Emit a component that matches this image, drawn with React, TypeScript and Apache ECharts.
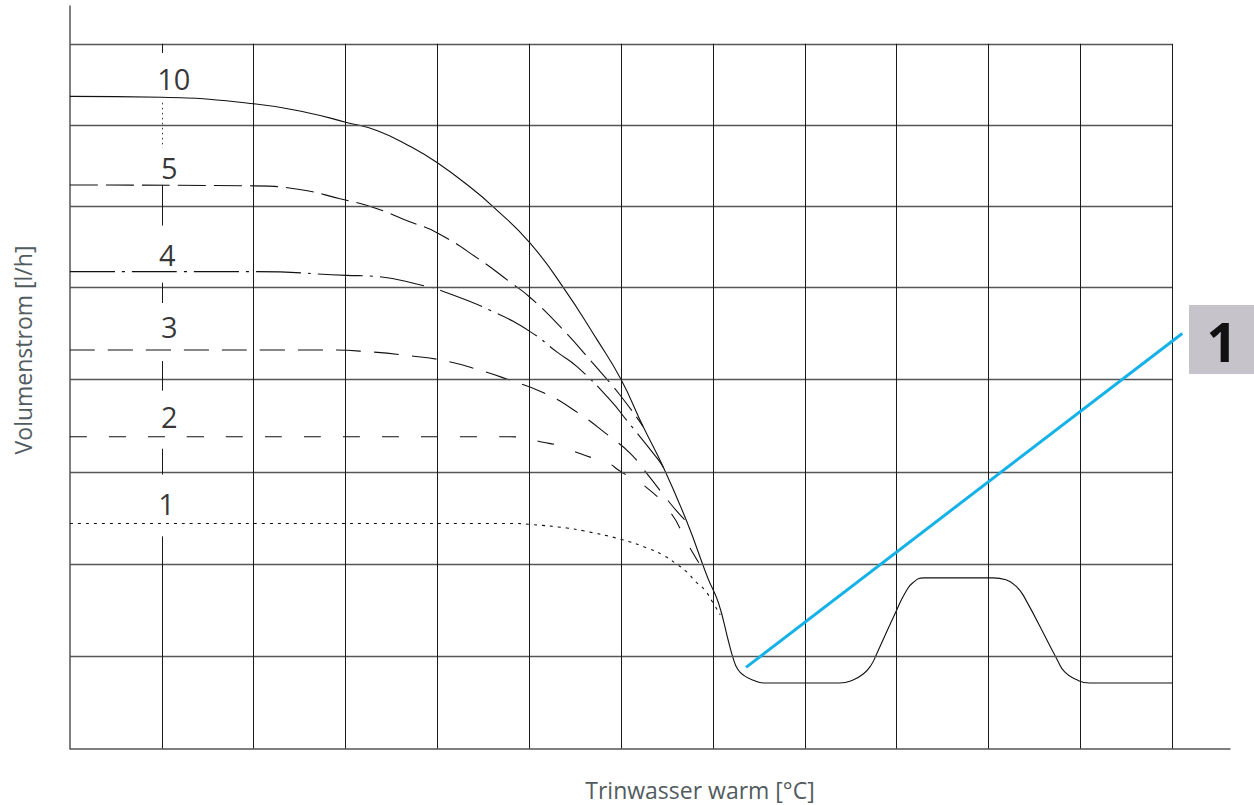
import React, { useEffect, useRef } from 'react';
import * as echarts from 'echarts';

// ---- axis extents & grid (arbitrary units: one lower grid row = 1) ----
const xMax = 12.63;
const yMax = 8.05;
const xGridValues = [1, 2, 3, 4, 5, 6, 7, 8, 9, 10, 11, 12];
const yGridValues = [1, 2, 3, 4, 5, 5.88, 6.76, 7.64];
const gridTopValue = 7.64;
const gridRightValue = 12;

// segments of the broken reference line at x = 1 : [from, to, style]
const refLineX = 1;
const refLineSegments: [number, number, string][] = [
  [7.64, 7.54, 'solid'],
  [7.0, 6.51, 'dotted'],
  [6.11, 5.67, 'solid'],
  [5.05, 4.83, 'solid'],
  [4.2, 3.88, 'solid'],
  [3.25, 2.97, 'solid'],
  [2.3, 0, 'solid'],
];

// ---- curves ----
const curve10 = [
  [0, 7.07], [1.0, 7.06], [2.0, 6.99], [2.6, 6.89], [3.0, 6.79], [3.34, 6.7], [3.7, 6.53], [4.0, 6.35],
  [4.39, 6.06], [4.6, 5.88], [5.0, 5.49], [5.37, 5.0], [5.74, 4.43], [6.0, 4.0], [6.24, 3.49],
  [6.46, 3.05], [6.72, 2.45], [6.94, 1.86], [7.06, 1.58], [7.17, 1.16], [7.22, 0.98],
  [7.27, 0.86], [7.34, 0.79], [7.44, 0.74], [7.55, 0.71], [8.38, 0.71], [8.52, 0.74],
  [8.64, 0.81], [8.72, 0.9], [8.78, 1.02], [9.0, 1.5], [9.1, 1.7], [9.18, 1.8], [9.3, 1.85],
  [10.05, 1.85], [10.19, 1.83], [10.3, 1.76], [10.38, 1.66], [10.75, 0.96], [10.83, 0.83],
  [10.95, 0.75], [11.1, 0.71], [12.0, 0.71],
];
const curve5 = [
  [0, 6.11], [2.0, 6.1], [2.5, 6.06], [2.94, 5.96], [3.32, 5.86], [3.7, 5.71], [4.0, 5.59],
  [4.46, 5.3], [4.8, 5.05], [5.01, 4.89], [5.34, 4.57], [5.69, 4.18], [5.99, 3.83], [6.24, 3.49],
];
const curve4 = [
  [0, 5.17], [2.0, 5.17], [3.01, 5.13], [3.3, 5.12], [3.84, 5.02], [4.08, 4.95], [4.6, 4.74],
  [5.01, 4.52], [5.3, 4.3], [5.52, 4.14], [5.88, 3.78], [6.06, 3.56], [6.39, 3.15], [6.46, 3.05],
];
const curve3 = [
  [0, 4.32], [2.83, 4.32], [3.27, 4.3], [3.68, 4.26], [4.1, 4.2], [4.5, 4.09], [4.77, 4.0],
  [5.15, 3.86], [5.53, 3.64], [5.88, 3.38], [6.1, 3.2], [6.29, 2.97], [6.55, 2.64], [6.72, 2.45],
];
const curve2 = [
  [0, 3.38], [4.65, 3.38], [4.79, 3.38], [4.97, 3.36], [5.15, 3.32], [5.3, 3.29], [5.44, 3.24],
  [5.69, 3.15], [5.85, 3.1], [6.0, 3.0], [6.24, 2.86], [6.53, 2.57], [6.73, 2.21], [6.94, 1.86],
];
const curve1 = [
  [0, 2.44], [4.79, 2.44], [5.01, 2.43], [5.41, 2.39], [5.59, 2.36], [5.99, 2.27], [6.32, 2.16],
  [6.45, 2.1], [6.59, 2.01], [6.72, 1.91], [6.81, 1.81], [6.91, 1.72], [7.0, 1.58], [7.08, 1.45],
];

const curveLabels = ['10', '5', '4', '3', '2', '1'];
const curveLabelPositions = [
  [1.13, 7.26], [1.08, 6.3], [1.06, 5.36], [1.08, 4.58], [1.08, 3.6], [1.05, 2.66],
];

const pointerLine = [[7.36, 0.88], [12.11, 4.5]];
const calloutText = '1';

const xTitle = 'Trinwasser warm [°C]';
const yTitle = 'Volumenstrom [l/h]';

const FONT = '"Open Sans", "Noto Sans", sans-serif';

export default function App() {
  const ref = useRef<HTMLDivElement>(null);

  useEffect(() => {
    if (!ref.current) return;
    const chart = echarts.init(ref.current, undefined, { renderer: 'svg' });

    const hLine = { color: '#555555', width: 1.3, type: 'solid' };
    const vLine = { color: '#1a1a1a', width: 1, type: 'solid' };

    const gridMarks: any[] = [];
    yGridValues.forEach((y) => {
      gridMarks.push([{ coord: [0, y], lineStyle: hLine }, { coord: [gridRightValue, y] }]);
    });
    xGridValues.forEach((x) => {
      if (x === refLineX) return;
      gridMarks.push([{ coord: [x, 0], lineStyle: vLine }, { coord: [x, gridTopValue] }]);
    });
    refLineSegments.forEach(([a, b, style]) => {
      gridMarks.push([
        {
          coord: [refLineX, a],
          lineStyle:
            style === 'dotted'
              ? { color: '#333', width: 1, type: [1.5, 3.5] }
              : vLine,
        },
        { coord: [refLineX, b] },
      ]);
    });

    const curveSeries = (name: string, data: number[][], type: any, z = 3) => ({
      name,
      type: 'line',
      data,
      showSymbol: false,
      symbol: 'none',
      smooth: 0.5,
      silent: true,
      z,
      lineStyle: { color: '#111', width: 1.1, type },
    });

    chart.setOption({
      animation: false,
      grid: { left: 70, right: 24, top: 6, bottom: 56.5 },
      xAxis: {
        type: 'value',
        min: 0,
        max: xMax,
        axisLine: { show: true, lineStyle: { color: '#555', width: 1.5 } },
        axisTick: { show: false },
        axisLabel: { show: false },
        splitLine: { show: false },
      },
      yAxis: {
        type: 'value',
        min: 0,
        max: yMax,
        axisLine: { show: true, lineStyle: { color: '#555', width: 1.5 } },
        axisTick: { show: false },
        axisLabel: { show: false },
        splitLine: { show: false },
      },
      series: [
        {
          name: 'grid',
          type: 'line',
          data: [[0, 0]],
          showSymbol: false,
          symbol: 'none',
          silent: true,
          z: 1,
          lineStyle: { width: 0 },
          markLine: {
            silent: true,
            symbol: ['none', 'none'],
            label: { show: false },
            emphasis: { disabled: true },
            data: gridMarks,
          },
        },
        curveSeries('10', curve10, 'solid'),
        curveSeries('5', curve5, [28, 8]),
        curveSeries('4', curve4, [45, 7, 3, 7]),
        curveSeries('3', curve3, [25, 13]),
        curveSeries('2', curve2, [17, 22]),
        curveSeries('1', curve1, [3, 5]),
        {
          name: 'labels',
          type: 'scatter',
          silent: true,
          symbolSize: 1,
          itemStyle: { color: 'rgba(0,0,0,0)' },
          z: 5,
          data: curveLabels.map((n, i) => ({ name: n, value: curveLabelPositions[i] })),
          label: {
            show: true,
            position: 'inside',
            formatter: '{b}',
            color: '#000',
            fontSize: 29,
            fontFamily: FONT,
          },
        },
        {
          name: 'pointer',
          type: 'line',
          data: pointerLine,
          showSymbol: false,
          symbol: 'none',
          silent: true,
          z: 6,
          lineStyle: { color: '#14b2e8', width: 3 },
        },
      ],
      graphic: [
        {
          type: 'rect',
          shape: { x: 1189, y: 305, width: 65, height: 69 },
          style: { fill: '#c6c3cb' },
        },
        {
          type: 'text',
          x: 1222,
          y: 341,
          style: {
            text: calloutText,
            fill: '#111',
            font: `bold 54px ${FONT}`,
            align: 'center',
            verticalAlign: 'middle',
          },
        },
        {
          type: 'text',
          x: 700,
          y: 790,
          style: {
            text: xTitle,
            fill: '#525b5e',
            font: `23px ${FONT}`,
            align: 'center',
            verticalAlign: 'middle',
          },
        },
        {
          type: 'text',
          x: 23,
          y: 350,
          rotation: Math.PI / 2,
          style: {
            text: yTitle,
            fill: '#525b5e',
            font: `23px ${FONT}`,
            align: 'center',
            verticalAlign: 'middle',
          },
        },
      ],
    });

    return () => chart.dispose();
  }, []);

  return (
    <div
      ref={ref}
      style={{ position: 'fixed', left: 0, top: 0, width: 1254, height: 805, background: '#fff' }}
    />
  );
}
